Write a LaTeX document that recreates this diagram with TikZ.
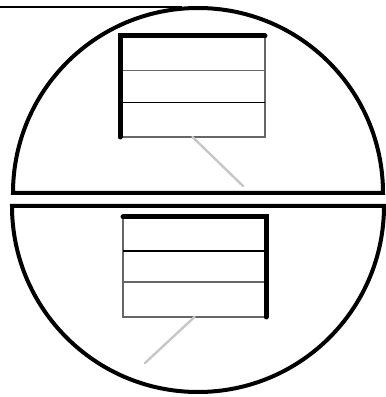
\documentclass[tikz,border=0pt]{standalone}
\usepackage{tikz}
\usetikzlibrary{positioning, calc}

\tikzset{
  rim/.style={line width=4pt},
  heavy/.style={line width=5pt, line cap=round},
  panel/.style={draw=black!60, line width=1.4pt, inner sep=0pt, outer sep=0pt},
  grey rule/.style={line width=1.4pt, draw=black!60},
  dark rule/.style={line width=1.4pt, draw=black},
  pointer/.style={line width=2.4pt, draw=black!22, line cap=round}
}

\begin{document}
\begin{tikzpicture}[x=1pt, y=1pt]
  \useasboundingbox (0,0) rectangle (386,397);

  % upper half
  \draw[line width=2pt] (0,390) -- (182,390);
  \draw[rim] (13,204) arc[start angle=180, end angle=0, radius=185] -- cycle;
  \node[panel, minimum width=145pt, minimum height=101pt] (upper) at (192.5,310.5) {};
  \draw[grey rule] ($(upper.north west)!0.34!(upper.south west)$) -- ($(upper.north east)!0.34!(upper.south east)$);
  \draw[dark rule] ($(upper.north west)!0.66!(upper.south west)$) -- ($(upper.north east)!0.66!(upper.south east)$);
  \draw[heavy] (upper.south west) -- (upper.north west) -- (upper.north east);
  \coordinate (utip) at (243,211);
  \draw[pointer] (upper.south) -- (utip);

  % lower half
  \draw[rim] (12,191) arc[start angle=180, end angle=360, radius=186] -- cycle;
  \node[panel, minimum width=143pt, minimum height=100pt] (lower) at (194.5,130) {};
  \draw[dark rule] ($(lower.north west)!0.34!(lower.south west)$) -- ($(lower.north east)!0.34!(lower.south east)$);
  \draw[grey rule] ($(lower.north west)!0.65!(lower.south west)$) -- ($(lower.north east)!0.65!(lower.south east)$);
  \draw[heavy] (lower.north west) -- (lower.north east) -- (lower.south east);
  \coordinate (ltip) at (145,34);
  \draw[pointer] (lower.south) -- (ltip);
\end{tikzpicture}
\end{document}
